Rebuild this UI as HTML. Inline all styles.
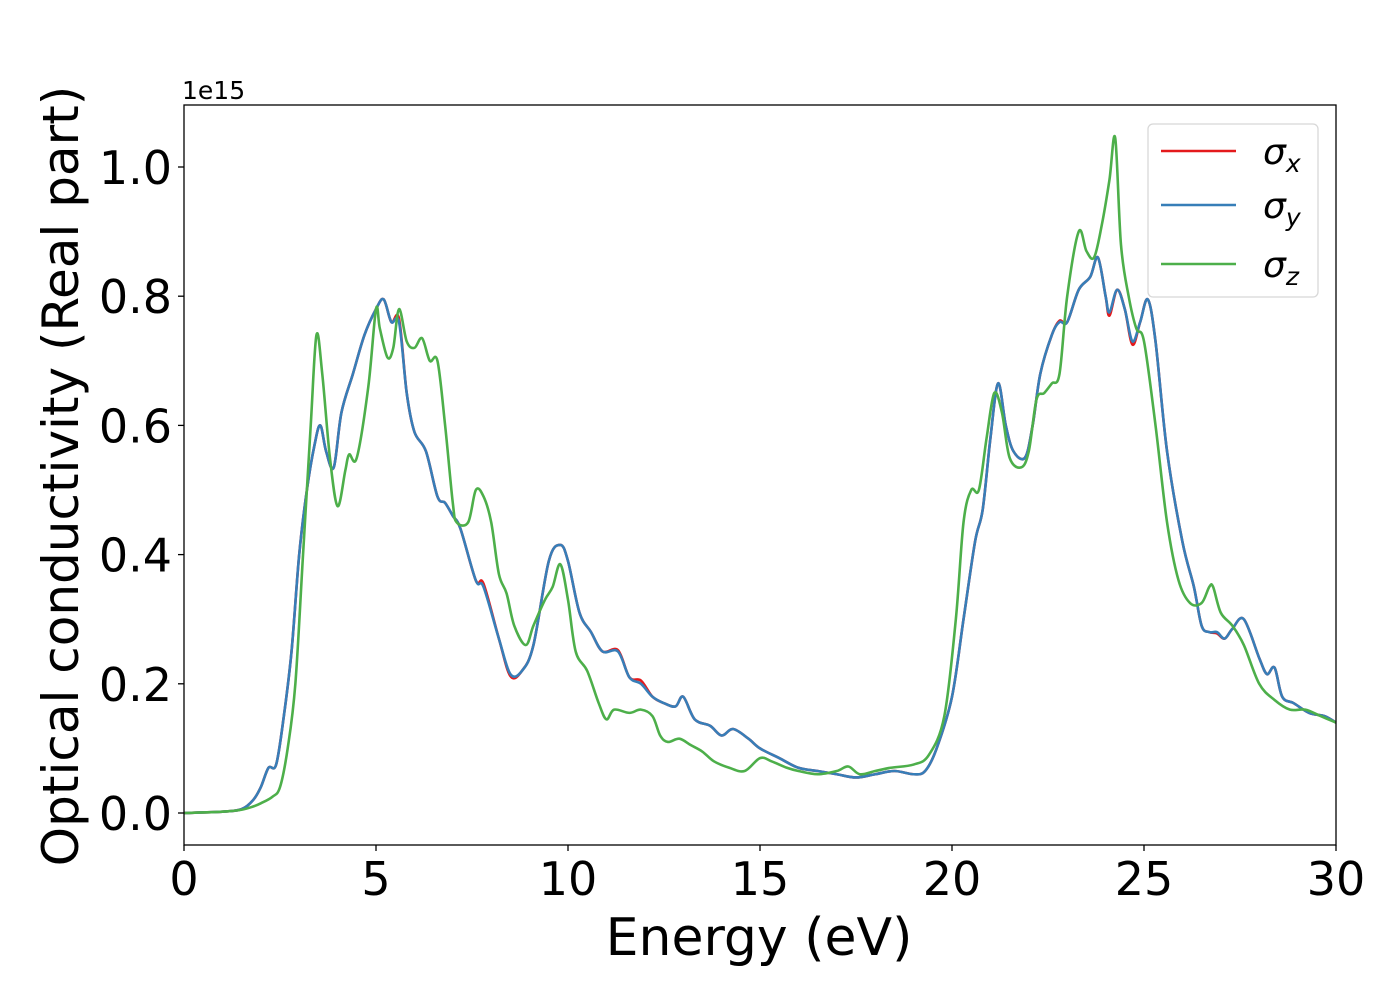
<!DOCTYPE html>
<html><head><meta charset="utf-8"><style>
body{margin:0;background:#fff;}
svg text{font-family:"DejaVu Sans","Liberation Sans",sans-serif;}
</style></head><body>
<svg id="chart" width="1400" height="1000" viewBox="0 0 1400 1000">
<rect x="0" y="0" width="1400" height="1000" fill="#fff"/>
<g id="series"></g>
<rect x="184" y="105" width="1152" height="740" fill="none" stroke="#000" stroke-width="1.3"/>
<g id="axes"></g>
<text x="182" y="99" font-size="25">1e15</text>
<text x="759" y="955" font-size="52" text-anchor="middle">Energy (eV)</text>
<text transform="translate(78,476) rotate(-90)" font-size="50" text-anchor="middle">Optical conductivity (Real part)</text>
<g>
<rect x="1148" y="124" width="170" height="173" rx="5" fill="#fff" fill-opacity="0.8" stroke="#d8d8d8" stroke-width="1.3"/>
<line x1="1161" y1="151" x2="1236" y2="151" stroke="#e41a1c" stroke-width="2.5"/>
<text x="1263" y="164" font-size="36" font-style="italic">σ<tspan font-size="25" dy="8">x</tspan></text>
<line x1="1161" y1="205" x2="1236" y2="205" stroke="#377eb8" stroke-width="2.5"/>
<text x="1263" y="218" font-size="36" font-style="italic">σ<tspan font-size="25" dy="8">y</tspan></text>
<line x1="1161" y1="264" x2="1236" y2="264" stroke="#4daf4a" stroke-width="2.5"/>
<text x="1263" y="277" font-size="36" font-style="italic">σ<tspan font-size="25" dy="8">z</tspan></text>
</g>
</svg>
<script>
const xTicks=[0,5,10,15,20,25,30];
const yTicks=[0.0,0.2,0.4,0.6,0.8,1.0];
const yTickLabels=["0.0","0.2","0.4","0.6","0.8","1.0"];
const energyXY=[0,1,1.5,1.8,2.0,2.2,2.4,2.6,2.8,3.0,3.2,3.4,3.55,3.7,3.9,4.1,4.4,4.7,5.0,5.2,5.4,5.6,5.8,6.0,6.3,6.6,6.8,7.0,7.2,7.6,7.8,8.2,8.5,8.8,9.1,9.5,9.8,10.0,10.3,10.6,10.9,11.3,11.6,11.9,12.2,12.5,12.8,13.0,13.3,13.7,14.0,14.3,14.7,15.0,15.5,16.0,16.5,17.0,17.5,18.0,18.5,19.0,19.3,19.6,20.0,20.3,20.6,20.8,21.0,21.2,21.4,21.6,21.9,22.1,22.3,22.6,22.8,23.0,23.3,23.6,23.8,24.0,24.1,24.3,24.5,24.7,24.9,25.1,25.3,25.6,26.0,26.3,26.5,26.7,26.9,27.1,27.3,27.6,28.0,28.2,28.4,28.6,28.9,29.3,29.7,30];
const sigmaY=[0,0.002,0.006,0.02,0.04,0.07,0.075,0.15,0.25,0.4,0.5,0.57,0.6,0.56,0.535,0.62,0.68,0.74,0.78,0.795,0.76,0.76,0.65,0.59,0.56,0.49,0.48,0.46,0.44,0.36,0.35,0.27,0.215,0.22,0.26,0.39,0.415,0.39,0.31,0.28,0.25,0.25,0.21,0.2,0.18,0.17,0.165,0.18,0.145,0.135,0.12,0.13,0.115,0.1,0.085,0.07,0.065,0.06,0.055,0.06,0.065,0.06,0.065,0.1,0.18,0.3,0.42,0.47,0.58,0.665,0.6,0.56,0.55,0.6,0.68,0.74,0.76,0.76,0.81,0.83,0.86,0.8,0.775,0.81,0.78,0.73,0.76,0.795,0.73,0.56,0.42,0.35,0.29,0.28,0.28,0.27,0.285,0.3,0.24,0.215,0.225,0.18,0.17,0.155,0.15,0.14];
const sigmaX=[0,0.002,0.006,0.02,0.04,0.07,0.075,0.15,0.25,0.4,0.5,0.57,0.6,0.56,0.535,0.62,0.68,0.74,0.78,0.795,0.76,0.765,0.65,0.59,0.56,0.49,0.48,0.46,0.44,0.36,0.355,0.27,0.212,0.22,0.26,0.39,0.415,0.39,0.31,0.28,0.25,0.252,0.21,0.205,0.18,0.17,0.165,0.18,0.145,0.135,0.12,0.13,0.115,0.1,0.085,0.07,0.065,0.06,0.055,0.06,0.065,0.06,0.065,0.1,0.18,0.3,0.42,0.47,0.58,0.665,0.6,0.56,0.55,0.6,0.68,0.74,0.762,0.76,0.81,0.83,0.86,0.8,0.77,0.81,0.78,0.725,0.76,0.795,0.73,0.56,0.42,0.35,0.29,0.28,0.278,0.27,0.285,0.3,0.24,0.215,0.225,0.18,0.17,0.155,0.15,0.14];
const energyZ=[0,1,1.5,1.8,2.0,2.3,2.5,2.7,2.9,3.1,3.3,3.45,3.6,3.8,4.0,4.2,4.3,4.5,4.8,5.0,5.1,5.3,5.45,5.6,5.8,6.0,6.2,6.4,6.6,6.8,7.0,7.1,7.4,7.6,7.8,8.0,8.2,8.4,8.6,8.9,9.1,9.4,9.6,9.8,10.0,10.2,10.5,10.8,11.0,11.2,11.6,11.9,12.2,12.4,12.6,12.9,13.2,13.5,13.8,14.2,14.6,15.0,15.3,15.7,16.0,16.5,17.0,17.3,17.6,18.0,18.4,19.0,19.4,19.8,20.1,20.3,20.5,20.7,20.9,21.1,21.3,21.5,21.8,22.0,22.2,22.4,22.6,22.8,23.0,23.3,23.5,23.7,23.9,24.1,24.25,24.4,24.6,24.8,25.0,25.3,25.6,25.9,26.2,26.5,26.7,26.8,27.0,27.3,27.6,28.0,28.4,28.8,29.2,29.6,30];
const sigmaZ=[0,0.002,0.005,0.01,0.015,0.025,0.04,0.1,0.2,0.4,0.6,0.74,0.68,0.55,0.475,0.53,0.555,0.55,0.66,0.78,0.75,0.705,0.72,0.78,0.73,0.72,0.735,0.7,0.7,0.6,0.48,0.45,0.45,0.5,0.49,0.45,0.37,0.34,0.29,0.26,0.29,0.33,0.35,0.385,0.33,0.25,0.22,0.17,0.145,0.16,0.155,0.16,0.15,0.12,0.11,0.115,0.105,0.095,0.08,0.07,0.065,0.085,0.08,0.07,0.065,0.06,0.065,0.072,0.06,0.065,0.07,0.075,0.09,0.15,0.3,0.45,0.5,0.5,0.58,0.65,0.62,0.55,0.535,0.56,0.64,0.65,0.665,0.68,0.8,0.9,0.87,0.86,0.91,0.98,1.045,0.88,0.8,0.75,0.73,0.6,0.45,0.36,0.325,0.325,0.35,0.35,0.31,0.29,0.26,0.2,0.175,0.16,0.16,0.15,0.14];

const X0=184,X1=1336,Y0=813,PY=646;
const sx=v=>X0+(X1-X0)*v/30;
const sy=v=>Y0-PY*v;
const NS='http://www.w3.org/2000/svg';
function pathFor(xs,ys){
  const p=xs.map((x,i)=>[sx(x),sy(ys[i])]);
  let d='M'+p[0][0]+','+p[0][1];
  for(let i=0;i<p.length-1;i++){
    const a=p[Math.max(0,i-1)],b=p[i],c=p[i+1],e=p[Math.min(p.length-1,i+2)];
    const c1x=b[0]+(c[0]-a[0])/6,c1y=b[1]+(c[1]-a[1])/6;
    const c2x=c[0]-(e[0]-b[0])/6,c2y=c[1]-(e[1]-b[1])/6;
    d+=' C'+c1x+','+c1y+' '+c2x+','+c2y+' '+c[0]+','+c[1];
  }
  return d;
}
const g=document.getElementById('series');
[[energyXY,sigmaX,'#e41a1c','series-sigma-x'],[energyXY,sigmaY,'#377eb8','series-sigma-y'],[energyZ,sigmaZ,'#4daf4a','series-sigma-z']].forEach(s=>{
  const el=document.createElementNS(NS,'path');
  el.setAttribute('d',pathFor(s[0],s[1]));
  el.setAttribute('fill','none');
  el.setAttribute('stroke',s[2]);
  el.setAttribute('stroke-width','2.6');
  
  
  g.appendChild(el);
});
const ax=document.getElementById('axes');
xTicks.forEach(v=>{
  const l=document.createElementNS(NS,'line');
  l.setAttribute('x1',sx(v));l.setAttribute('x2',sx(v));l.setAttribute('y1',845);l.setAttribute('y2',851);
  l.setAttribute('stroke','#000');l.setAttribute('stroke-width','1.3');
  
  
  ax.appendChild(l);
  const t=document.createElementNS(NS,'text');
  t.setAttribute('x',sx(v));t.setAttribute('y',895);t.setAttribute('font-size','46');t.setAttribute('text-anchor','middle');
  t.textContent=String(v);
  
  
  ax.appendChild(t);
});
yTicks.forEach((v,i)=>{
  const l=document.createElementNS(NS,'line');
  l.setAttribute('x1',178);l.setAttribute('x2',184);l.setAttribute('y1',sy(v));l.setAttribute('y2',sy(v));
  l.setAttribute('stroke','#000');l.setAttribute('stroke-width','1.3');
  
  
  ax.appendChild(l);
  const t=document.createElementNS(NS,'text');
  t.setAttribute('x',172);t.setAttribute('y',sy(v)+17);t.setAttribute('font-size','46');t.setAttribute('text-anchor','end');
  t.textContent=yTickLabels[i];
  
  
  ax.appendChild(t);
});
</script>
</body></html>
